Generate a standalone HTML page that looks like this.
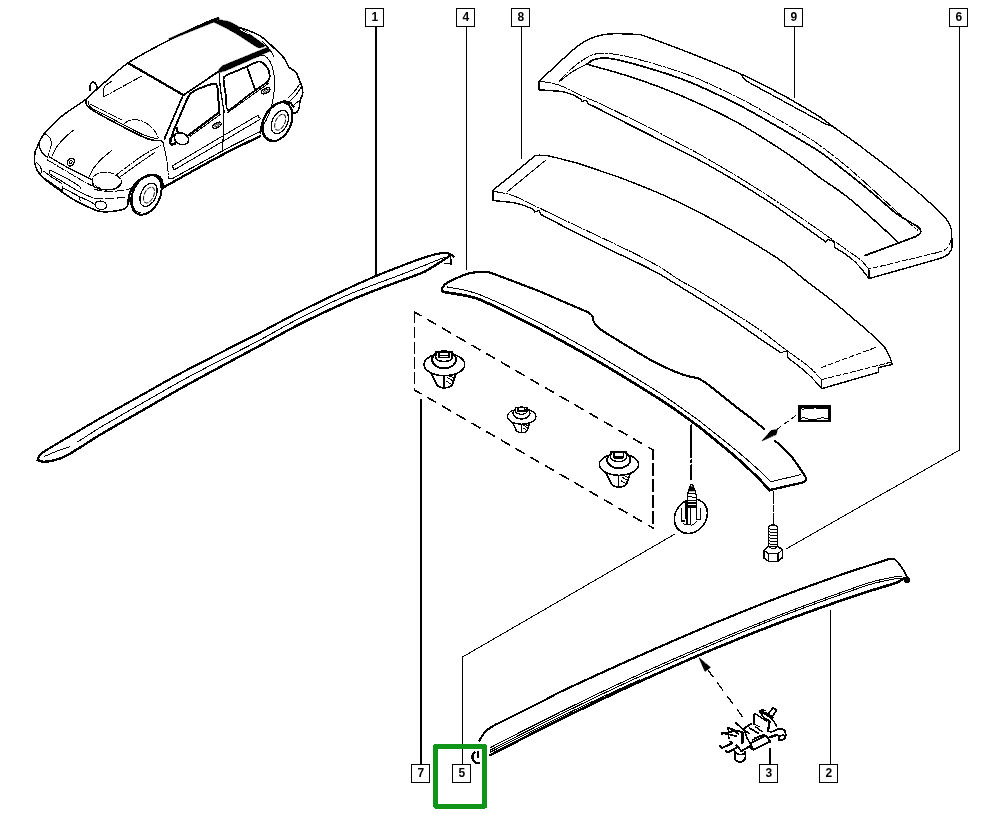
<!DOCTYPE html>
<html><head><meta charset="utf-8"><title>Diagram</title>
<style>
html,body{margin:0;padding:0;background:#fff;}
body{width:1000px;height:820px;overflow:hidden;}
svg{display:block;}
svg path, svg ellipse, svg circle{fill:none;stroke:#000;stroke-linecap:round;stroke-linejoin:round;}
svg .f{fill:#000;}
svg .w{fill:#fff;}
svg .ws{stroke:#fff;}
</style></head><body>
<svg shape-rendering="crispEdges" width="1000" height="820" viewBox="0 0 1000 820">
<rect width="1000" height="820" fill="#fff"/>
<g id="leaders">
<path d="M375.8 26.5 L375.8 274" stroke-width="2" />
<path d="M466.5 26.5 L466.5 270" stroke-width="1" />
<path d="M521.5 26.5 L521.5 159" stroke-width="1" />
<path d="M794.5 26.5 L794.5 98" stroke-width="1" />
<path d="M959.5 26.5 L959.5 450 L786 549" stroke-width="1" />
<path d="M421 400 L421 764" stroke-width="2" />
<path d="M462.5 764 L462.5 657 L675 534" stroke-width="1" />
<path d="M770 749 L770 764" stroke-width="2" />
<path d="M830.5 610 L830.5 764" stroke-width="1" />
</g>
<g id="p1">
<path d="M37.6 458.8 C37.9 458.3 39.1 456 40 455 C40.9 454 40.3 454 44 451.6 C47.7 449.2 60.5 441.6 68 437.2 C75.5 432.8 90.4 423.9 100 418.4 C109.6 412.9 129.3 402 140 396 C150.7 390 169.3 379.3 180 373.6 C190.7 367.9 209.3 358.5 220 353 C230.7 347.5 249.3 338.1 260 332.6 C270.7 327.1 288 317.5 300 311.5 C312 305.5 339.9 292.2 350 287.5 C360.1 282.8 369.3 278.8 376 276 C382.7 273.2 393.6 269 400 266.5 C406.4 264 419.2 259.2 424 257.6 C428.8 256 433.4 254.8 436 254.2 C438.6 253.6 441.4 253.1 443.2 253 C445 252.9 448.2 253.3 449.6 253.8 C451 254.3 453.1 256.4 453.6 256.8" stroke-width="2.1" />
<path d="M37.6 460 C38.2 460.2 40.5 461.4 42 461.6 C43.5 461.8 46.4 461.7 48.8 461.3 C51.2 460.9 57.4 459.4 60 458.5 C62.6 457.6 64.8 456.6 68 454.8 C71.2 453 79.7 447.7 84 445 C88.3 442.3 92.5 439.2 100 434.8 C107.5 430.4 129.3 417.9 140 411.8 C150.7 405.7 169.3 394.8 180 388.8 C190.7 382.8 209.3 372.8 220 367 C230.7 361.2 249.3 351.3 260 345.6 C270.7 339.9 288 330 300 324 C312 318 339.9 305 350 300.5 C360.1 296 369.3 292.6 376 290 C382.7 287.4 393.6 283.4 400 281 C406.4 278.6 419.2 274.2 424 272 C428.8 269.8 433.2 266.5 436 264.8 C438.8 263.1 443 260.4 444.8 259.2 C446.6 258 449 256.4 449.6 256" stroke-width="2.4" />
<path d="M77.6 442 C80.6 440.1 91.7 432.6 100 427.6 C108.3 422.6 129.3 410.6 140 404.5 C150.7 398.4 169.3 387.5 180 381.6 C190.7 375.7 209.3 366 220 360.5 C230.7 355 249.3 345.7 260 340 C270.7 334.3 288 324.1 300 318 C312 311.9 336.7 299.7 350 294 C363.3 288.3 390.1 278.8 400 275 C409.9 271.2 418 268 424 265.6 C430 263.2 442 258.3 444.8 257.2" stroke-width="1.0" />
<path d="M44 456.6 C46 455.8 51.7 453.1 56 451.5 C60.3 449.9 67.3 447.6 69.6 446.8" stroke-width="1.0" />
<path d="M450 254 L451.2 264" stroke-width="1.8" />
<path d="M444.8 263.2 L451.2 263.2" stroke-width="1.2" />
</g>
<g id="p2">
<path d="M479.5 740.5 C480.2 739.4 483.2 733.9 485 732 C486.8 730.1 490.7 727.4 493 726 C495.3 724.6 498.4 723.3 502 721.5 C505.6 719.7 514.3 715.4 520 712.5 C525.7 709.6 539.7 702.7 545 700 C550.3 697.3 552.7 695.5 560 692 C567.3 688.5 589.3 678.4 600 673.5 C610.7 668.6 629.3 660.2 640 655.5 C650.7 650.8 669.3 642.5 680 637.9 C690.7 633.3 709.3 625.3 720 620.9 C730.7 616.5 749.3 608.9 760 604.7 C770.7 600.5 789.3 593.3 800 589.4 C810.7 585.5 830.7 578.3 840 575.1 C849.3 571.9 863.6 567.3 870 565.2 C876.4 563.1 885.6 560.2 888 559.4" stroke-width="2.1" />
<path d="M888 559.4 C888.9 559.3 892.9 558.3 894.4 559 C895.9 559.7 898.2 562.9 899.5 564.5 C900.8 566.1 903 569.3 904 571 C905 572.7 906.6 576.6 907 577.5" stroke-width="1.8" />
<path d="M490.4 755.1 C494.3 753.1 510.7 744.5 520 739.8 C529.3 735.1 549.3 724.9 560 719.6 C570.7 714.3 589.3 705.2 600 700.1 C610.7 695 629.3 686.3 640 681.4 C650.7 676.5 669.3 668.2 680 663.5 C690.7 658.8 709.3 650.8 720 646.4 C730.7 642 749.3 634.5 760 630.3 C770.7 626.1 789.3 619 800 615.1 C810.7 611.2 830.4 604.2 840 600.9 C849.6 597.6 864.5 592.7 872 590.3 C879.5 587.9 892 584.3 896 582.9 C900 581.5 900.8 580.3 902 579.6 C903.2 578.9 904.4 578 904.8 577.8" stroke-width="2.6" />
<path d="M490.4 747.6 C494.3 745.6 510.7 737 520 732.3 C529.3 727.6 549.3 717.5 560 712.2 C570.7 706.9 589.3 697.8 600 692.7 C610.7 687.6 629.3 678.9 640 674 C650.7 669.1 669.3 660.9 680 656.2 C690.7 651.5 709.3 643.5 720 639 C730.7 634.5 749.3 627 760 622.8 C770.7 618.6 789.3 611.3 800 607.3 C810.7 603.3 830.4 596.2 840 592.8 C849.6 589.4 864.5 584 872 581.9 C879.5 579.8 892 577.4 896 576.7 C900 576 901.2 576.7 902 576.7" stroke-width="1.0" />
<path d="M490.4 750.1 C494.3 748.1 510.7 739.5 520 734.8 C529.3 730.1 549.3 719.9 560 714.6 C570.7 709.3 589.3 700.2 600 695.1 C610.7 690 629.3 681.3 640 676.4 C650.7 671.5 669.3 663.2 680 658.5 C690.7 653.8 709.3 645.7 720 641.2 C730.7 636.7 749.3 629.1 760 624.8 C770.7 620.5 789.3 613.3 800 609.3 C810.7 605.3 830.4 598.2 840 594.8 C849.6 591.4 864.5 586.1 872 583.9 C879.5 581.7 892 579.4 896 578.6 C900 577.8 901.2 578.3 902 578.2" stroke-width="1.0" />
<path d="M490.4 752.1 C494.3 750.1 510.7 741.7 520 737 C529.3 732.3 549.3 722.2 560 717 C570.7 711.8 589.3 703 600 698 C610.7 693 634.7 682.1 640 679.7" stroke-width="1.0" />
<circle cx="907" cy="580" r="2.4" class="f"/>
<path d="M474.4 752.3 C474.1 752.8 473 754.5 472.7 755.5 C472.4 756.5 472.2 757.5 472.5 758.5 C472.8 759.5 473.5 760.6 474.2 761.4 C474.9 762.1 475.8 762.7 476.5 763 C477.2 763.3 478.2 763.2 478.6 763.2" stroke-width="2.4" stroke-linecap="butt"/>
<path d="M478 752.2 L478 757.5" stroke-width="2.0" stroke-linecap="butt"/>
</g>
<g id="p4">
<path d="M442.2 290.5 C442.2 290.1 441.9 288.5 442.5 287.5 C443.1 286.5 444.6 284.4 446.4 283.2 C448.2 282 453.1 279.7 456 278.4 C458.9 277.1 464.8 274.5 468 273.6 C471.2 272.7 477.1 272.1 480 272 C482.9 271.9 488.7 272.4 490 272.5" stroke-width="2.2" />
<path d="M490 272.5 L536.4 290 L588 312.2" stroke-width="2.1" />
<path d="M588 312.2 C588.6 312.7 591.4 314.4 592.2 315.8 C593 317.2 593 320.6 594 322.4 C595 324.2 596.5 326.4 600 329 C603.5 331.6 613.1 337.4 620 341.6 C626.9 345.8 644.5 356.7 652 360.8 C659.5 364.9 670.9 369.9 676 372 C681.1 374.1 687.5 376 690.4 376.8 C693.3 377.6 696.6 377.7 697.5 377.8" stroke-width="2.1" />
<path d="M697.5 377.8 C698.6 378.5 703.7 381.4 706 383 C708.3 384.6 711 386.8 715 390 C719 393.2 731.1 402.9 736 406.8 C740.9 410.7 747.9 415.7 752 419 C756.1 422.3 764.1 428.7 766.8 431.3 C769.5 433.9 770.4 436.2 772.4 438.3 C774.4 440.4 779.4 444.5 782 447 C784.6 449.5 789.4 454 792 457.2 C794.6 460.4 800 468.6 801.8 471.2 C803.6 473.8 804.9 475.8 805.5 477 C806.1 478.2 806.3 479.3 806 480 C805.7 480.7 803.6 482.1 803.2 482.4" stroke-width="2.1" />
<path d="M442.2 291 C442.7 291.2 443 291.7 446 292.3 C449 292.9 460.5 294.5 465 295.5 C469.5 296.5 474 297.1 480 299.6 C486 302.1 502 310.1 510 314 C518 317.9 532 325 540 329.2 C548 333.4 562 341.1 570 345.5 C578 349.9 593.3 358.6 600 362.5 C606.7 366.4 612 369.6 620 374.5 C628 379.4 652 394.2 660 399.3 C668 404.4 674.7 409.2 680 413 C685.3 416.8 696.3 424.7 700 427.5 C703.7 430.3 703.2 430 708 434 C712.8 438 729.5 451.5 736 457.2 C742.5 462.9 752.5 472.4 757 476.8 C761.5 481.2 767.9 488.3 769.6 490.1" stroke-width="2.7" />
<path d="M447.5 287 C449.8 287.4 460.7 289.3 465 290.3 C469.3 291.3 474 292.4 480 294.8 C486 297.2 502 304.2 510 308 C518 311.8 532 318.8 540 323 C548 327.2 562 335 570 339.4 C578 343.8 593.3 352.4 600 356.3 C606.7 360.2 612 363.4 620 368.3 C628 373.2 652 388 660 393.2 C668 398.4 674.7 403.2 680 407 C685.3 410.8 696.3 418.6 700 421.4 C703.7 424.2 703.2 424 708 427.8 C712.8 431.6 729.5 444.8 736 450.2 C742.5 455.6 752.3 464.2 757 468.4 C761.7 472.6 769.1 479.9 771 481.7" stroke-width="1.0" />
<path d="M769.6 490.1 L803.2 482.4" stroke-width="2.3" />
<path d="M771 481.7 L800.4 474.7" stroke-width="1.0" />
</g>
<g id="p8">
<path d="M492.8 190.4 C494.5 189 506.6 179.3 510 176.5 C513.4 173.7 524.5 164.6 527 162.5 C529.5 160.4 533.9 156.5 535.2 155.8 C536.5 155.1 538.7 155.2 540 155.2 C541.3 155.2 547.2 155.6 548 155.7" stroke-width="1.4" />
<path d="M548 155.7 C551.7 156.6 570.1 161.2 576 162.8 C581.9 164.4 587.7 166.6 592 168 C596.3 169.4 604.3 172.3 608 173.6 C611.7 174.9 613.1 174.9 620 177.6 C626.9 180.3 649.3 188.9 660 193.6 C670.7 198.3 689.3 207.3 700 212.8 C710.7 218.3 729.3 228.9 740 235.2 C750.7 241.5 771.3 254 780 260 C788.7 266 798.3 274.8 805 280 C811.7 285.2 823.3 293.7 830 299 C836.7 304.3 849.7 315.5 855 320 C860.3 324.5 866.2 329.5 870 333 C873.8 336.5 881 342.8 883.6 346 C886.2 349.2 888.5 354.6 889.6 356.8 C890.7 359 891.5 361.8 891.8 362.8 C892.1 363.8 891.8 364.4 891.8 364.6" stroke-width="1.4" />
<path d="M492.8 190.4 L492.8 200.5 L512.5 202.5" stroke-width="1.4" />
<path d="M512.5 202.5 C514.4 203 520.5 204.3 524 205.5 C527.5 206.7 531.9 208.8 533.5 209.5" stroke-width="1.4" />
<path d="M533.5 209.5 L534.5 212 L539 210.5 L540.8 214.4" stroke-width="1.2" />
<path d="M540.8 214.4 C545.5 216.9 567 228.2 576 232.8 C585 237.4 599.5 244.6 608 248.8 C616.5 253 633.1 260.6 640 264 C646.9 267.4 654.7 271.4 660 274.4 C665.3 277.4 670.9 281 680 286.6 C689.1 292.2 717.3 309.4 728 316.4 C738.7 323.4 753.2 334.1 760 338.8 C766.8 343.5 776.6 349.9 779.2 351.6" stroke-width="1.4" />
<path d="M779.2 351.6 L780.5 352.6 L787.2 351 L788 358" stroke-width="1.2" />
<path d="M788 358 C789.3 359 795.3 363.4 798 365.5 C800.7 367.6 805.7 371.9 808 374 C810.3 376.1 813.2 379.1 815 381 C816.8 382.9 820.7 387.4 821.6 388.4" stroke-width="1.3" />
<path d="M492.8 191.2 C495.4 191.7 506.5 193.3 512 195.2 C517.5 197.1 525.9 201.5 534.4 205.6 C542.9 209.7 564.6 220.2 576 225.6 C587.4 231 611.5 242.3 620 246.4 C628.5 250.5 634.7 253.5 640 256.3 C645.3 259.1 654.7 264 660 267.2 C665.3 270.4 675.3 277.5 680 280.4 C684.7 283.3 688.8 285 695.2 288.8 C701.6 292.6 719.4 303.7 728 309.2 C736.6 314.7 752.5 324.8 760 330 C767.5 335.2 777.6 343.6 784 348.4 C790.4 353.2 803 361.9 808 366 C813 370.1 819.6 377.6 821.4 379.4" stroke-width="1.0" stroke-dasharray="12 1.5 2 1.5"/>
<path d="M507.5 191.5 L546 160" stroke-width="1.0" />
<path d="M891.8 364.6 L878.8 367.4 L878.2 372.4 L821.8 388.6 L821.4 379.6" stroke-width="1.4" />
<path d="M821.4 379.6 L890.8 362.2" stroke-width="1.0" stroke-dasharray="5 2.5"/>
<path d="M821.2 367.6 L875.8 347.4" stroke-width="1.0" stroke-dasharray="5 2.5"/>
</g>
<g id="p9">
<path d="M538.8 81.3 C541.5 78.8 549.8 71.3 555 66.5 C560.2 61.7 565.8 56.2 570 52.5 C574.2 48.8 576.7 46.8 580 44.5 C583.3 42.2 586.3 40.4 590 38.8 C593.7 37.2 597.8 35.9 602 35 C606.2 34.1 608.7 33.8 615 33.7 C621.3 33.6 635.8 34.4 640 34.5" stroke-width="1.4" />
<path d="M640 34.5 C642.7 35.4 652 38.6 660 41.6 C668 44.6 689.3 52.7 700 57 C710.7 61.3 729.3 68.7 740 73.6 C750.7 78.5 772 89.4 780 93.6 C788 97.8 794.7 101.9 800 105 C805.3 108.1 815.7 114.2 820 117 C824.3 119.8 827.2 122.5 832 126 C836.8 129.5 849.6 138.3 856 143 C862.4 147.7 874.1 156.7 880 161.2 C885.9 165.7 894.7 172.6 900 177 C905.3 181.4 915.7 190.3 920 194 C924.3 197.7 928.8 201.8 932 204.8 C935.2 207.8 941.8 214 944 216.4 C946.2 218.8 947.6 220.7 948.6 222.5 C949.6 224.3 951 227.9 951.4 230 C951.8 232.1 951.7 236.9 951.8 238" stroke-width="1.4" />
<path d="M951.8 238 C951.8 239.5 952.3 244.7 952 247 C951.7 249.3 951.2 250.1 950.2 251.6 C949.2 253.1 947.9 254.6 946 255.8 C944.1 257 940 258.3 938.8 258.8" stroke-width="1.4" />
<path d="M938.8 258.8 L869 278.6 L868.8 269" stroke-width="1.4" />
<path d="M950.8 240.2 C950.5 241.1 950 243.9 949 245.5 C948 247.1 946.9 248.6 944.8 249.8 C942.7 251 937.8 252.3 936.4 252.8" stroke-width="1.0" stroke-dasharray="5 2.5"/>
<path d="M936.4 252.8 L869 269" stroke-width="1.0" stroke-dasharray="5 2.5"/>
<path d="M538.8 81.3 L538.8 89.8 L562 91.4" stroke-width="1.4" />
<path d="M562 91.4 C563.7 91.9 568.8 93.2 572 94.5 C575.2 95.8 579.7 98.6 581.2 99.4" stroke-width="1.4" />
<path d="M581.2 99.4 L582 101.3 L586.8 100.2 L587.6 103.4" stroke-width="1.2" />
<path d="M587.6 103.4 C589.3 104.2 594.9 106.9 600 109.5 C605.1 112.1 619.3 119.6 626 123 C632.7 126.4 643.5 131.7 650 135 C656.5 138.3 668.3 144.4 675 147.8 C681.7 151.2 694 157.3 700 160.5 C706 163.7 714.7 168.7 720 171.8 C725.3 174.9 733.3 179.4 740 183.5 C746.7 187.6 762 197.2 770 202.5 C778 207.8 792.5 218.2 800 223.5 C807.5 228.8 822.5 239.5 826 242" stroke-width="1.4" />
<path d="M826 242 L827.5 239.5 L834 241.5 L834.5 247.5" stroke-width="1.2" />
<path d="M834.5 247.5 C835.6 248.2 840.5 250.8 843 252.5 C845.5 254.2 850.9 258.2 853 260 C855.1 261.8 857.6 264.5 859 266 C860.4 267.5 862.2 269.9 863.5 271.5 C864.8 273.1 867.8 277.1 868.5 278" stroke-width="1.3" />
<path d="M538.8 81 C541.5 81.5 552.9 83 558.8 85 C564.7 87 577.3 93.7 582.8 96.2 C588.3 98.7 594.2 100.8 600 103.5 C605.8 106.2 619.3 112.9 626 116.2 C632.7 119.5 643.5 124.7 650 128 C656.5 131.3 668.3 137.7 675 141.2 C681.7 144.7 693.5 150.9 700 154.5 C706.5 158.1 718.7 165.4 724 168.5 C729.3 171.6 733.9 174.2 740 178 C746.1 181.8 762 191.8 770 197 C778 202.2 792 211.5 800 217 C808 222.5 823.3 233.3 830 238 C836.7 242.7 845.9 249.3 850 252.2 C854.1 255.1 858.3 257.8 860.8 260 C863.3 262.2 867.7 267.8 868.8 269" stroke-width="1.0" stroke-dasharray="12 1.5 2 1.5"/>
<path d="M741 74 C741.4 74.7 742.4 76.8 743.5 78 C744.6 79.2 744.8 79.8 747.5 81.5 C750.2 83.2 747.9 81.9 760 88.5 C772.1 95.1 808.3 114.8 820 121 C831.7 127.2 827.5 124.4 830 125.5 C832.5 126.6 834.2 127.2 835 127.5" stroke-width="1.3" />
<path d="M558.8 81 C560 79.8 565.4 74.3 568 72 C570.6 69.7 574.7 65.7 578 63.4 C581.3 61.1 588.8 56.1 592.4 54.8 C596 53.5 600.7 53.1 605.2 53.3 C609.7 53.5 619 54.6 626 56.2 C633 57.8 650.8 62.9 658 65 C665.2 67.1 674.4 70.1 680 72 C685.6 73.9 692 76.1 700 79.6 C708 83.1 729.3 92.9 740 98.4 C750.7 103.9 770 114.8 780 120.6 C790 126.4 806.3 136.1 815 142 C823.7 147.9 837.7 159 845 165 C852.3 171 863.3 181 870 187 C876.7 193 889.9 205.3 895 210 C900.1 214.7 905 219.3 908 222 C911 224.7 916.2 228.9 917.5 230" stroke-width="1.0" stroke-dasharray="9 2 2 2"/>
<path d="M586.8 64.2 C587.8 63.6 591.3 60.4 594 59.6 C596.7 58.8 602.5 57.8 606.8 58.1 C611.1 58.4 619.2 60.1 626 61.8 C632.8 63.5 650.8 68.8 658 71 C665.2 73.2 674.4 76.3 680 78.4 C685.6 80.5 692 82.8 700 86.4 C708 90 729.3 100.1 740 105.6 C750.7 111.1 769.3 121.8 780 128 C790.7 134.2 811.3 146.3 820 152 C828.7 157.7 838.3 165.8 845 171 C851.7 176.2 863.3 185.5 870 191 C876.7 196.5 889.7 208.4 895 212.5 C900.3 216.6 907 220.1 910 222 C913 223.9 916.1 225.4 917.5 226.5 C918.9 227.6 920.2 229.1 920.5 230 C920.8 230.9 920.6 232.6 920 233.5 C919.4 234.4 916.5 236.1 916 236.5" stroke-width="1.7" />
<path d="M916 236.5 L865 255.5" stroke-width="1.8" />
<path d="M559.5 81.5 C561.6 79.9 567.5 74.9 572 72 C576.5 69.1 584.3 65.5 586.8 64.2" stroke-width="1.0" />
<path d="M586.8 64.2 C592 65.7 616.2 72.3 626 75.4 C635.8 78.5 650.1 83.4 660 87.2 C669.9 91 689.3 99.1 700 104 C710.7 108.9 729.3 118 740 124 C750.7 130 771.5 143.3 780 148.8 C788.5 154.3 798.7 161.7 804 165.6 C809.3 169.5 815.5 174.5 820 177.8 C824.5 181.1 833.8 187 838 190 C842.2 193 846.9 196.5 851.2 200 C855.5 203.5 865.5 212.5 870 216.5 C874.5 220.5 881.3 226.5 885 230 C888.7 233.5 896.3 240.9 898 242.6" stroke-width="1.5" />
</g>
<g id="dbox">
<path d="M414.5 312 L414.5 390" stroke-width="1.6" stroke-dasharray="10.3 5" stroke-linecap="butt"/>
<path d="M414.5 312 L653 450" stroke-width="1.6" stroke-dasharray="9 8" stroke-dashoffset="1.6" stroke-linecap="butt"/>
<path d="M414.5 390 L653 528" stroke-width="1.6" stroke-dasharray="9 8" stroke-dashoffset="1.6" stroke-linecap="butt"/>
<path d="M653 450 L653 528.5" stroke-width="1.6" stroke-dasharray="11 5" stroke-dashoffset="2" stroke-linecap="butt"/>
</g>
<g id="car">
<ellipse cx="146.4" cy="194.8" rx="21" ry="13.6" transform="rotate(-65 146.4 194.8)" stroke-width="2.0" class="w"/>
<path d="M132.5 198 A18.5 11.6 -65 0 0 141 212.5" stroke-width="1.0" />
<ellipse cx="148.5" cy="194.8" rx="12.3" ry="7.6" transform="rotate(-65 148.5 194.8)" stroke-width="1.2" />
<ellipse cx="149" cy="195" rx="8.5" ry="4.6" transform="rotate(-65 149 195)" stroke-width="0.9" stroke-dasharray="4 2"/>
<path d="M128 203 C128.4 201 128.9 194.7 130.6 191 C132.3 187.3 134.9 183.6 138 181 C141.1 178.4 145.8 176.5 149 175.6 C152.2 174.7 154.9 174.9 157 175.6 C159.1 176.3 160.6 177.5 161.6 179.6 C162.6 181.7 162.6 186.6 162.8 188" stroke-width="2.2" />
<ellipse cx="277.4" cy="121.8" rx="20.6" ry="13.6" transform="rotate(-65 277.4 121.8)" stroke-width="2.0" class="w"/>
<path d="M263.5 125 A18.2 11.6 -65 0 0 272 139.5" stroke-width="1.0" />
<ellipse cx="279.8" cy="122" rx="12.3" ry="7.6" transform="rotate(-65 279.8 122)" stroke-width="1.2" />
<ellipse cx="280.2" cy="122.2" rx="8.5" ry="4.6" transform="rotate(-65 280.2 122.2)" stroke-width="0.9" stroke-dasharray="4 2"/>
<path d="M260.4 132.4 C260.9 130.2 261.7 123.1 263.6 119 C265.5 114.9 268.6 110.4 271.6 107.6 C274.6 104.8 278.6 102.9 281.6 102 C284.6 101.1 287.6 101.6 289.6 102.4 C291.6 103.2 292.9 106.2 293.6 107" stroke-width="2.2" />
<path d="M45 133 C47.3 130.7 56.7 120.4 62 116 C67.3 111.6 80.5 103.5 85 100 C89.5 96.5 90.3 94.9 96 90 C101.7 85.1 118.1 69.7 128 63 C137.9 56.3 159.6 45 170 39.6 C180.4 34.2 199.6 25.3 206 22.4 C212.4 19.5 216.4 18.6 218 18" stroke-width="1.5" />
<path d="M169 38.6 L218 17.4 L219.6 19.2 L215 21.6 L190 31.6 L170 39.8Z" stroke-width="0.6" class="f"/>
<path d="M214.4 22.2 C213.8 21.5 217.3 20.6 218 20.4 C218.7 20.2 220.4 20 221.6 20.2 C222.8 20.4 228.1 21.2 230 22 C231.9 22.8 238.5 26.6 240.8 28 C243.1 29.4 250.4 34.7 252.8 36.4 C255.2 38.1 263.9 44.3 264.8 45.4 C265.7 46.5 262.7 47.2 262 47.4 C261.3 47.6 259 48 257.6 47.4 C256.2 46.8 250.2 42.8 248 41.4 C245.8 40 238.4 35 236 33.6 C233.6 32.2 226.2 28.1 224 27 C221.8 25.9 215 22.9 214.4 22.2Z" stroke-width="0.6" class="f"/>
<path d="M240.5 29.5 L249 34.2" stroke-width="1.0" class="ws"/>
<path d="M239.6 27.6 C240.7 28 245.3 29.3 248 30.4 C250.7 31.5 256.8 33.7 260 35.8 C263.2 37.9 268.8 43 272 46 C275.2 49 281.8 55.2 284 58 C286.2 60.8 287.2 65.1 288.8 67 C290.4 68.9 294.6 70.6 296 72.4 C297.4 74.2 298.8 78.9 299.6 80.8 C300.4 82.7 301.6 85 302 86.8 C302.4 88.6 302.9 92.1 302.6 94 C302.3 95.9 300.5 99.1 300 101 C299.5 102.9 299.6 106.5 299.2 108 C298.8 109.5 297.8 111.3 297 112 C296.2 112.7 293.5 113.3 293 113.5" stroke-width="1.6" />
<path d="M301 87.6 C300.2 88.8 297.8 92.8 296 95 C294.2 97.2 291 100 290 101" stroke-width="1.1" />
<path d="M299.6 84.4 C298.7 85.7 295.9 89.7 294 92 C292.1 94.3 289 97 288 98" stroke-width="1.0" />
<path d="M300 100 C299.2 100.7 296.2 102.8 295 104 C293.8 105.2 293.3 106.5 293 107" stroke-width="1.0" />
<path d="M262 41 C263.3 42.5 268 47.3 270 50 C272 52.7 273.3 55.8 274 57" stroke-width="1.0" />
<path d="M217.5 72.8 L219.5 68.5 L222 66 L267 47.5 L271 50.5 L258 56.5 L226 70.5Z" stroke-width="0.6" class="f"/>
<path d="M218 71.8 L183 95.4" stroke-width="1.7" />
<path d="M128 63 L184 95.4" stroke-width="2.3" />
<path d="M183 95.4 C181.7 98.5 177.3 108.6 175 114 C172.7 119.4 170.8 123.8 169 128 C167.2 132.2 165.2 137.2 164.4 139" stroke-width="1.7" />
<path d="M170 143.6 C170.4 142.1 171.8 135.8 173 132.4 C174.2 129 177 122.7 179 118 C181 113.3 186.3 100.8 188 97.4 C189.7 94 190.5 93.6 192 92.4 C193.5 91.2 196.1 89.8 199 88.6 C201.9 87.4 211.7 84.1 214 83.6 C216.3 83.1 216.1 84.3 216.6 85.2 C217.1 86.1 217.5 86.4 217.8 90 C218.1 93.6 219 109.4 219.2 112.4" stroke-width="2.0" />
<path d="M219.2 112.4 L188.4 135.2" stroke-width="2.2" />
<path d="M220.4 114.4 L190 136.4" stroke-width="1.0" />
<path d="M177.2 133.2 C178.8 132.7 182.1 132.7 184 133.6 C185.9 134.5 187.9 136.8 188.4 138.4 C188.9 140 188.2 142.2 187 143.2 C185.8 144.2 182.9 144.9 181 144.6 C179.1 144.3 176.7 142.6 175.6 141.2 C174.5 139.8 174.1 137.7 174.4 136.4 C174.7 135.1 175.6 133.7 177.2 133.2Z" stroke-width="1.5" class="w"/>
<path d="M173.2 134.8 C172.7 135.7 170.6 138.4 170.2 140 C169.8 141.6 170.2 143.6 171 144.2 C171.8 144.8 174.5 143.7 175.2 143.6" stroke-width="2.6" />
<path d="M176.8 128.4 L178 133.2" stroke-width="2.2" />
<path d="M219.2 73.6 C219.4 76.3 219.8 83.7 220.6 90 C221.4 96.3 223.4 107.7 224 111.2" stroke-width="1.3" />
<path d="M224 111.2 C223.9 114.3 223.9 123.6 223.6 130 C223.3 136.4 222.6 146.2 222.4 149.4" stroke-width="1.1" />
<path d="M224 77.2 C225.5 74.7 237.6 70.8 241 69.2 C244.4 67.6 255.7 62.2 258 61.6 C260.3 61 262.6 62.7 263.6 63.4 C264.6 64.1 267.4 67.8 268 69 C268.6 70.2 269.6 73.8 269.6 75 C269.6 76.2 270.2 79.1 268 81.2 C265.8 83.3 252 92.7 248 95.6 C244 98.5 230.2 110.4 228 110.2 C225.8 110 226 97.3 225.6 94 C225.2 90.7 222.5 79.7 224 77.2Z" stroke-width="1.8" />
<path d="M247 67 L255 89.4" stroke-width="1.7" />
<path d="M228 112.4 L269 83" stroke-width="1.0" />
<path d="M222.4 70 C227.4 68.1 253.9 57.1 260 55.6 C266.1 54.1 266.4 57.4 268 58.8 C269.6 60.2 271.1 63.4 272 66 C272.9 68.6 274.2 74 274.4 78 C274.6 82 274.3 91.2 273.6 96 C272.9 100.8 270.7 109.5 269 114 C267.3 118.5 262.1 127.9 261 130" stroke-width="1.0" />
<ellipse cx="217" cy="125.2" rx="4.6" ry="2.3" transform="rotate(-28 217 125.2)" stroke-width="1.3" />
<ellipse cx="217" cy="125.2" rx="2.6" ry="1" transform="rotate(-28 217 125.2)" stroke-width="0.8" />
<ellipse cx="265.8" cy="90.8" rx="4.6" ry="2.3" transform="rotate(-28 265.8 90.8)" stroke-width="1.3" />
<ellipse cx="265.8" cy="90.8" rx="2.6" ry="1" transform="rotate(-28 265.8 90.8)" stroke-width="0.8" />
<path d="M174.4 164.6 C178.5 162 251.8 118.8 256 116.4 C260.2 114 258.3 117.2 258.4 117.4 C258.5 117.6 262.3 117.8 258.2 120.4 C254.1 123 180.6 166.2 176.4 168.6 C172.2 171 173.7 168 173.6 167.8 C173.5 167.6 170.3 167.2 174.4 164.6Z" stroke-width="1.0" />
<path d="M162 188.2 C165.5 186.3 207.5 162.7 214 159.2 C220.5 155.7 256.9 137.7 260 136.2" stroke-width="2.3" />
<path d="M168.4 178.2 C168.6 178.2 170.3 179.5 173 178.2 C175.7 176.8 217.8 153.5 222 151.2 C226.2 148.9 256.2 133.5 258 132.6" stroke-width="1.1" />
<path d="M163 142.4 C163.4 144.3 164.8 150.1 165.6 154 C166.4 157.9 167.1 162 167.6 166 C168.1 170 168.3 176.2 168.4 178.2" stroke-width="1.0" stroke-dasharray="7 1.5 1.5 1.5"/>
<path d="M160 140 L163 142.4" stroke-width="1.0" />
<path d="M44.7 132.7 C44 133.9 40.4 139.6 39.4 141.5 C38.3 143.4 37.7 145.5 37.2 147 C36.6 148.5 35.3 150.4 35 152.5 C34.6 154.6 34.3 159.9 34.6 162.4 C35 164.9 36.6 169.2 37.7 171.2 C38.8 173.3 40.6 175.5 43.2 177.8 C45.8 180.2 53.4 185.9 57.5 188.8 C61.6 191.7 69.5 197.2 74 199.8 C78.6 202.4 87.9 207 91.6 208.6 C95.3 210.2 98.3 211.3 101.5 211.6 C104.7 211.9 112.5 211.5 115.8 211 C119.1 210.5 124.5 209.1 126.3 207.7 C128 206.4 128.6 201.8 129 200.9" stroke-width="1.6" />
<path d="M44.3 133.3 C45.1 133.9 48.1 135.5 49.3 137.1 C50.4 138.7 51.3 140.7 51.5 142.6 C51.6 144.5 51 146.3 50.4 148.7 C49.7 151 48.1 155.5 47.6 156.9" stroke-width="1.0" stroke-dasharray="7 1.5 1.5 1.5"/>
<path d="M47.6 156.9 C47 156.5 45 156.1 43.8 154.7 C42.5 153.3 40.6 150.5 39.9 148.3 C39.2 146.1 39.4 142.6 39.4 141.5" stroke-width="1.3" />
<path d="M49.3 156.9 C51.1 157.9 63.2 165.1 67.4 167.4 C71.6 169.6 89.2 178.2 91.6 179.5" stroke-width="1.2" />
<path d="M47.6 160 C49.5 161.1 62.6 169 66.3 171.2 C70 173.4 82.4 180.8 85 182.2 C87.6 183.7 91.4 185.4 92.2 185.7" stroke-width="1.0" stroke-dasharray="7 1.5 1.5 1.5"/>
<path d="M49.8 170.1 C50.9 170.6 60.5 175.1 63 176.5 C65.5 177.8 78 185.3 79.5 186.4 C81 187.4 80.7 188.8 80.8 189" stroke-width="1.0" />
<path d="M49.8 170.1 C49.8 170.4 48.4 172.7 49.4 173.6 C50.4 174.6 59.5 179.9 61.9 181.3 C64.3 182.8 75.9 189.9 78.4 191.2 C80.9 192.6 91 197.1 92.2 197.6" stroke-width="1.0" />
<path d="M43.8 171.2 C44.6 171.8 50.2 176.1 52 177.3 C53.8 178.4 60.4 182.5 61.4 183.1" stroke-width="1.0" />
<path d="M62.1 186.6 L62.5 191" stroke-width="1.0" />
<path d="M36.1 162.4 C36.8 163.1 39.6 165 40.5 166.8 C41.3 168.6 41.5 172.7 41 173.4 C40.5 174.1 38.3 171.6 37.7 171.2" stroke-width="1.1" />
<path d="M43.8 177.8 C45 178.6 60.6 189.5 61.9 190.1 C63.2 190.8 61.8 187.5 63 187.9 C64.2 188.4 77.6 195.8 79.5 196.7 C81.4 197.7 90.6 201.7 91.6 202.2 C92.6 202.7 94.2 204.3 94.4 204.4" stroke-width="1.1" />
<path d="M79.5 196.7 L80.1 200.9" stroke-width="1.0" />
<path d="M93.8 189 C96 189.5 102.1 191.5 107 191.7 C112 191.9 119.1 190.7 123.5 190.1 C127.9 189.5 131.8 188.3 133.4 187.9" stroke-width="1.1" stroke-dasharray="8 3"/>
<path d="M94.9 198.9 C97.8 198.8 107.4 198.7 112.5 198.4 C117.6 198.1 123.5 197.5 125.7 197.3" stroke-width="1.1" stroke-dasharray="8 3"/>
<ellipse cx="106.8" cy="181.1" rx="14.6" ry="8.7" transform="rotate(6 106.8 181.1)" stroke-width="1.1" stroke-dasharray="6 2"/>
<path d="M92.3 182.2 C92.7 183 92.8 185.9 94.9 187.2 C97 188.4 101.3 189.7 104.8 189.9 C108.3 190.1 113.1 189.4 115.8 188.3 C118.5 187.2 119.9 184.1 120.8 183.3" stroke-width="1.2" />
<ellipse cx="100.8" cy="205.3" rx="5.9" ry="4.2" transform="rotate(10 100.8 205.3)" stroke-width="1.1" />
<ellipse cx="70.8" cy="162.1" rx="4.2" ry="3.1" transform="rotate(-55 70.8 162.1)" stroke-width="1.3" />
<ellipse cx="70.8" cy="162.1" rx="2" ry="1.2" transform="rotate(-55 70.8 162.1)" stroke-width="1.0" />
<path d="M52 155.8 C52.9 154.2 55.3 149 57.5 145.9 C59.7 142.8 62.5 139.8 65.2 137.1 C68 134.4 72.5 131.1 74 130" stroke-width="1.0" />
<path d="M89.4 176.7 C90.1 175.2 91.8 170.8 93.8 167.9 C95.8 165 98.5 162 101.5 159.1 C104.5 156.2 110.2 151.8 112 150.3" stroke-width="1.0" />
<path d="M115 176 C119.5 172.7 134.3 161.1 142 156 C149.7 150.9 157.8 147 161 145.2" stroke-width="1.0" stroke-dasharray="7 1.5 1.5 1.5"/>
<path d="M120 177 C123 174.8 132.2 168.1 138 164 C143.8 159.9 152.2 154.3 155 152.4" stroke-width="1.0" />
<path d="M85.6 99.6 C85.8 100.3 85.7 103.5 86.8 105 C87.9 106.5 90.9 109 94 111 C97.1 113 103.6 116.6 110 120 C116.4 123.4 136.4 133.7 142 136.4 C147.6 139.1 149.4 139.4 152 140 C154.6 140.6 160.1 140.5 161.4 140.6" stroke-width="1.6" />
<path d="M88.4 102 C88.7 102.7 88.1 105.5 91 107.6 C93.9 109.7 103.2 114.1 110 117.6 C116.8 121.1 135.6 131.3 142 134.2 C148.4 137.1 155.9 138.4 158 139" stroke-width="1.0" />
<path d="M90 104 L122 120" stroke-width="1.0" stroke-dasharray="7 1.5 1.5 1.5"/>
<path d="M123 125.2 C123.8 124.5 125.8 121.9 128 121 C130.2 120.1 133 119.3 136 119.6 C139 119.9 143 121.3 146 123 C149 124.7 151.9 127.4 154 130 C156.1 132.6 157.8 137 158.6 138.4" stroke-width="1.0" stroke-dasharray="7 1.5 1.5 1.5"/>
<path d="M103 96.6 C103.2 95 102.9 89.6 104.4 87 C105.9 84.4 110.7 82 112 81" stroke-width="1.0" />
<path d="M103 97.2 L142 76" stroke-width="1.0" stroke-dasharray="7 1.5 1.5 1.5"/>
<path d="M90 90.4 C90.1 89.3 90 85.4 90.6 84 C91.2 82.6 92.6 82 93.6 82.2 C94.6 82.4 95.8 83.9 96.4 85 C97 86.1 97.1 88.3 97.2 89" stroke-width="1.6" />
</g>
<g>
<path d="M431.1 373.5 C431.5 374.3 433.7 378.6 434.4 380 C435.1 381.4 436.4 384.6 437.1 385.5 C437.8 386.4 439.5 387 440.4 387.3 C441.3 387.6 443.5 387.7 444.4 387.7 C445.3 387.7 447.6 387.6 448.4 387.3 C449.2 387 451 386.4 451.6 385.5 C452.2 384.6 453.4 381.4 453.9 380 C454.4 378.6 455.8 374.3 456.1 373.5" stroke-width="1.8" class="w"/>
<path d="M443.9 375.5 L443.9 387.3" stroke-width="1.4" />
<path d="M447.4 377.5 L452.4 380.5" stroke-width="1.0" />
<path d="M446.9 381.5 L450.9 384" stroke-width="1.0" />
<path d="M448.4 375.5 L453.9 378" stroke-width="1.0" />
<ellipse cx="444.4" cy="364.5" rx="20.3" ry="11.2" stroke-width="1.6" class="w"/>
<ellipse cx="444.1" cy="359.7" rx="12" ry="8.6" stroke-width="1.9" class="w"/>
<path d="M436.1 351.8 C436.1 352.6 435.5 356.9 435.8 358 C436.1 359.1 437.3 359.9 438.4 360.4 C439.5 360.9 442.6 361.4 444.1 361.4 C445.6 361.4 448.5 360.9 449.6 360.4 C450.7 359.9 451.7 359.1 452 358 C452.3 356.9 451.8 352.6 451.8 351.8Z" stroke-width="1.5" class="w"/>
<path d="M435.8 351.6 L452 351.6" stroke-width="2.0" />
<path d="M439.1 353.4 L439.1 357.6 L449 357.6 L449 353.4" stroke-width="1.5" />
<path d="M441 355.8 L447.7 355.8" stroke-width="1.2" />
</g>
<g>
<path d="M512.4 422.6 C512.7 423.2 514.2 426.2 514.7 427.2 C515.2 428.2 516.1 430.5 516.6 431.1 C517.1 431.6 518.3 432.1 518.9 432.3 C519.5 432.5 521 432.6 521.7 432.6 C522.4 432.6 523.9 432.5 524.5 432.3 C525.1 432.1 526.3 431.6 526.7 431.1 C527.2 430.5 528 428.2 528.4 427.2 C528.7 426.2 529.7 423.2 529.9 422.6" stroke-width="1.4400000000000002" class="w"/>
<path d="M521.4 424.1 L521.4 432.3" stroke-width="1.1199999999999999" />
<path d="M523.8 425.4 L527.3 427.6" stroke-width="1.0" />
<path d="M523.5 428.2 L526.2 430" stroke-width="1.0" />
<path d="M524.5 424.1 L528.4 425.8" stroke-width="1.0" />
<ellipse cx="521.7" cy="416.4" rx="14.2" ry="7.8" stroke-width="1.3" class="w"/>
<ellipse cx="521.5" cy="413" rx="8.4" ry="6" stroke-width="1.5" class="w"/>
<path d="M515.9 407.5 C515.9 408 515.5 411 515.7 411.8 C515.9 412.6 516.7 413.2 517.5 413.5 C518.3 413.8 520.4 414.2 521.5 414.2 C522.5 414.2 524.6 413.8 525.3 413.5 C526.1 413.2 526.8 412.6 527 411.8 C527.2 411 526.9 408 526.9 407.5Z" stroke-width="1.2000000000000002" class="w"/>
<path d="M515.7 407.3 L527 407.3" stroke-width="1.6" />
<path d="M518 408.6 L518 411.5 L524.9 411.5 L524.9 408.6" stroke-width="1.2000000000000002" />
<path d="M519.3 410.3 L524 410.3" stroke-width="1.0" />
</g>
<g>
<path d="M606.2 473.2 C606.5 473.9 608.7 478.1 609.4 479.4 C610 480.8 611.3 483.9 612 484.7 C612.6 485.6 614.3 486.2 615.1 486.5 C616 486.7 618.1 486.9 619 486.9 C619.9 486.9 622 486.7 622.9 486.5 C623.7 486.2 625.3 485.6 625.9 484.7 C626.6 483.9 627.7 480.8 628.2 479.4 C628.7 478.1 630 473.9 630.3 473.2" stroke-width="1.7369999999999999" class="w"/>
<path d="M618.5 475.1 L618.5 486.5" stroke-width="1.351" />
<path d="M621.9 477 L626.7 479.9" stroke-width="1.0" />
<path d="M621.4 480.9 L625.3 483.3" stroke-width="1.0" />
<path d="M622.9 475.1 L628.2 477.5" stroke-width="1.0" />
<ellipse cx="619" cy="464.5" rx="19.6" ry="10.8" stroke-width="1.5" class="w"/>
<ellipse cx="618.7" cy="459.9" rx="11.6" ry="8.3" stroke-width="1.8" class="w"/>
<path d="M611 452.2 C611 453 610.4 457.1 610.7 458.2 C611 459.3 612.1 460.1 613.2 460.5 C614.3 461 617.3 461.5 618.7 461.5 C620.2 461.5 623 461 624 460.5 C625 460.1 626.1 459.3 626.3 458.2 C626.6 457.1 626.2 453 626.1 452.2Z" stroke-width="1.4475" class="w"/>
<path d="M610.7 452 L626.3 452" stroke-width="1.93" />
<path d="M613.9 453.8 L613.9 457.8 L623.4 457.8 L623.4 453.8" stroke-width="1.4475" />
<path d="M615.7 456.1 L622.2 456.1" stroke-width="1.158" />
</g>
<path d="M691.3 425 L691.3 479.6" stroke-width="1.9" stroke-dasharray="32.5 2.7 2.2 2.7 15" stroke-linecap="butt"/>
<path d="M773.4 491.5 L773.4 523" stroke-width="1.2" stroke-dasharray="12 2.5 5 2.5 10" stroke-linecap="butt"/>
<g id="s5">
<ellipse cx="690.9" cy="516.2" rx="18.3" ry="15.3" transform="rotate(-52 690.9 516.2)" stroke-width="1.6"/>
<path d="M687.3 503 C687.3 501.9 687.3 497 687.6 495 C687.9 493 689 489.4 689.5 488 C690 486.6 691.1 484.2 691.7 484.2 C692.3 484.2 693.4 486.6 694 488 C694.6 489.4 695.8 493 696.2 495 C696.6 497 696.7 501.9 696.8 503Z" stroke-width="1.3" class="w"/>
<path d="M690.3 489 L693.2 489" stroke-width="1" />
<path d="M688.6 493 L695 494" stroke-width="1.1" />
<path d="M688 496.5 L695.8 497.5" stroke-width="1.1" />
<path d="M688 500 L696 501" stroke-width="1.1" />
<path d="M690 486.5 L693.5 486.5 L694.5 491 L689 491Z" stroke-width="0.6" class="f"/>
<rect x="685.3" y="502" width="12" height="5.6" class="f" stroke="none"/>
<path d="M688 504.3 L696 504.3" stroke-width="1.0" class="ws"/>
<path d="M681.6 508.5 L681.6 521 L685 521" stroke-width="1.3" />
<path d="M685.8 508 L685.8 518" stroke-width="1.3" />
<path d="M687 508.5 L687 524.3" stroke-width="1.4" />
<path d="M690.6 508.5 L690.4 524.3" stroke-width="1.4" />
<path d="M687 524.3 L690.4 524.3" stroke-width="1.0" />
<path d="M696.3 508 L696.3 519.5 L700.2 519.5 L700.2 508.5" stroke-width="1.3" />
<path d="M683 522.8 C683.2 523 683.5 523.9 684 524.2 C684.5 524.5 685.5 524.7 685.8 524.8" stroke-width="1" />
<path d="M691.5 525.2 C691.9 525 693.2 524.4 694 523.8 C694.8 523.2 696.1 521.9 696.5 521.5" stroke-width="1" />
</g>
<g id="b6">
<path d="M768.5 548 C768.5 545.7 768.3 530.6 768.5 528 C768.7 525.4 769.5 526 770 525.6 C770.5 525.2 772.3 524.8 773 524.8 C773.7 524.8 775.5 525.2 776 525.6 C776.5 526 777.4 525.4 777.6 528 C777.8 530.6 777.6 545.7 777.6 548" stroke-width="1.5" class="w"/>
<path d="M769.5 529 L776.6 529.8" stroke-width="1.0" />
<path d="M769.5 532 L776.6 532.8" stroke-width="1.0" />
<path d="M769.5 535 L776.6 535.8" stroke-width="1.0" />
<path d="M769.5 538 L776.6 538.8" stroke-width="1.0" />
<path d="M769.5 541 L776.6 541.8" stroke-width="1.0" />
<path d="M769.5 544 L776.6 544.8" stroke-width="1.0" />
<path d="M764 550.2 L768.5 546.3 L777.8 546.3 L782.6 549.8 L782.6 557.5 L778 561.3 L768.6 561.3 L764 558Z" stroke-width="1.6" class="w"/>
<path d="M764 550.2 L768.3 553.5 L778 553.5 L782.6 549.8" stroke-width="1.2" />
<path d="M768.3 553.5 L768.6 561.3" stroke-width="1.1" />
<path d="M778 553.5 L778 561.3" stroke-width="1.1" />
<path d="M769 546.8 C769.7 547.2 771.6 549 773 549 C774.4 549 776.6 547.2 777.3 546.8" stroke-width="1.1" />
</g>
<g id="pad">
<rect x="799.3" y="406.2" width="30.4" height="14.6" stroke="#000" stroke-width="2.6" fill="#fff"/>
<path d="M801 408.5 C801.3 408.6 802.2 409.4 803 409.3 C803.8 409.2 804.8 408.1 806 408 C807.2 407.9 808.5 409 810 409 C811.5 409 813.3 407.8 815 407.8 C816.7 407.8 818.5 409 820 409 C821.5 409 822.7 408 824 408 C825.3 408 827.3 408.8 828 409" stroke-width="1.0" />
<path d="M801 418.5 C801.5 418.4 802.8 417.5 804 417.6 C805.2 417.7 806.5 418.6 808 419 C809.5 419.4 811.3 420.1 813 420 C814.7 419.9 816.3 419 818 418.6 C819.7 418.2 821.3 417.7 823 417.8 C824.7 417.9 827.2 418.8 828 419" stroke-width="1.0" />
<path d="M796 415.5 L777 429.3" stroke-width="1.0" stroke-dasharray="5 4.5" stroke-linecap="butt"/>
<path d="M766.3 431 L773 439.3" stroke-width="4" class="ws" stroke-linecap="butt"/>
<path d="M762.2 440.6 L771 430.6 L777.3 429.4 L776.3 434.2Z" stroke-width="0.7" class="f"/>
</g>
<g id="c3">
<path d="M699.3 658.2 L705 671.4 L710.1 667.6Z" stroke-width="0.8" class="f"/>
<path d="M707.6 669.5 L742.1 716.2" stroke-width="1.3" stroke-dasharray="9 7.6" stroke-linecap="butt"/>
<path d="M753.8 714.8 L753.8 724" stroke-width="2.2" />
<path d="M753.8 714.8 L755.4 713.8 L766.2 721" stroke-width="1.6" />
<path d="M753.8 724 L759.8 726.8" stroke-width="1.2" />
<path d="M768.2 714.2 L773 707.6 L776.6 710 L772.8 716" stroke-width="1.7" />
<path d="M760.2 711.2 L766.2 714 L772.2 717.6" stroke-width="3.0" />
<path d="M761 713.2 L763.8 718 L768.2 720" stroke-width="1.6" />
<path d="M763 712 L761.8 709.6 L765 710.8" stroke-width="1.4" />
<path d="M769.6 721.4 L768 731.4" stroke-width="2.4" />
<path d="M773.8 721 L776.4 725.8" stroke-width="1.5" />
<path d="M771 718.8 L773.8 721" stroke-width="1.5" />
<path d="M774.6 730.8 C775.2 730.5 777 729.3 778.2 729 C779.4 728.6 780.7 728.5 781.8 728.8 C782.9 729.1 784.1 730 784.8 731 C785.4 732.1 785.7 733.9 785.6 735.2 C785.4 736.5 785 738.2 784 739 C782.9 739.9 780 740 779.2 740.2" stroke-width="2.0" />
<path d="M779.2 740.2 L779.2 736 L783.4 735.2" stroke-width="1.8" />
<path d="M767.8 731.4 L771 732 L776.2 730.2" stroke-width="1.5" />
<path d="M770.2 737.2 L776.6 735" stroke-width="2.4" />
<path d="M750.2 743.2 L766.2 735.6 L770.2 741.6 L753.4 749.8Z" stroke-width="1.9" />
<path d="M752.4 740 L764.6 734.4" stroke-width="1.4" />
<path d="M754.2 738.2 L762.2 735" stroke-width="1.2" />
<path d="M749.4 728 L758.2 733.2" stroke-width="1.7" />
<path d="M755.8 727 L762.2 731.6" stroke-width="1.4" />
<path d="M742.2 732 L742.2 743.2" stroke-width="2.6" />
<path d="M735.8 722.8 L743 729.2 L751.4 723.6" stroke-width="1.8" />
<path d="M743 729.2 L749.4 733.6" stroke-width="1.6" />
<path d="M745 732 L747.2 738.4 L750.2 743.2" stroke-width="1.5" />
<path d="M727.8 727.6 L735 730.4 L741.4 732" stroke-width="1.8" />
<path d="M728.2 728 L728.8 738.4" stroke-width="1.6" />
<path d="M721.8 732.8 L735.8 736" stroke-width="1.8" />
<path d="M722 734 L728.6 732.2 L739 730.8" stroke-width="1.5" />
<path d="M731 729.4 L738.4 733.8" stroke-width="1.7" />
<path d="M719.8 746 L722.2 748 L732 743.2 L730.4 741.6" stroke-width="2.0" />
<path d="M725.8 750.8 L727.8 752.4 L738.4 746.8 L736.4 745.4" stroke-width="2.0" />
<path d="M738.2 747.2 L741.4 751.2 L749.4 746.4 L753.4 750" stroke-width="1.9" />
<path d="M734.7 751.2 C734.7 752 734.5 757.3 734.7 758.4 C734.9 759.5 736 760.6 736.6 761 C737.2 761.4 739.2 761.8 740 761.8 C740.7 761.8 742.5 761.4 743.2 761 C743.8 760.6 745.1 759.5 745.4 758.4 C745.7 757.3 745.4 752.6 745.4 751.8" stroke-width="2.0" class="w"/>
<path d="M734.7 751.6 C735.4 752.1 737.7 754 739 754.4 C740.3 754.8 741.5 754.6 742.6 754.2 C743.7 753.9 744.9 752.5 745.4 752.2" stroke-width="1.6" />
</g>
<rect x="435.6" y="746.4" width="49" height="60" fill="none" stroke="#11941a" stroke-width="4.8" stroke-linejoin="round"/>
<g id="labels" font-family="'Liberation Sans', sans-serif" font-weight="700" font-size="12" text-anchor="middle" fill="#000" stroke="none">
<rect x="365.5" y="8.5" width="18" height="18" fill="#fff" stroke="#000" stroke-width="1"/>
<rect x="456.5" y="8.5" width="18" height="18" fill="#fff" stroke="#000" stroke-width="1"/>
<rect x="511.5" y="8.5" width="18" height="18" fill="#fff" stroke="#000" stroke-width="1"/>
<rect x="784.5" y="8.5" width="18" height="18" fill="#fff" stroke="#000" stroke-width="1"/>
<rect x="949.5" y="8.5" width="18" height="18" fill="#fff" stroke="#000" stroke-width="1"/>
<rect x="411.5" y="764.5" width="18" height="18" fill="#fff" stroke="#000" stroke-width="1"/>
<rect x="452.5" y="764.5" width="18" height="18" fill="#fff" stroke="#000" stroke-width="1"/>
<rect x="759.5" y="764.5" width="18" height="18" fill="#fff" stroke="#000" stroke-width="1"/>
<rect x="819.5" y="764.5" width="18" height="18" fill="#fff" stroke="#000" stroke-width="1"/>
<filter id="gs" x="-5%" y="-5%" width="110%" height="110%"><feColorMatrix type="saturate" values="0"/></filter>
<g filter="url(#gs)">
<text x="374.9" y="21.2">1</text>
<text x="465.9" y="21.2">4</text>
<text x="520.9" y="21.2">8</text>
<text x="793.9" y="21.2">9</text>
<text x="958.9" y="21.2">6</text>
<text x="420.9" y="777.2">7</text>
<text x="461.9" y="777.2">5</text>
<text x="768.9" y="777.2">3</text>
<text x="828.9" y="777.2">2</text>
</g>
</g>
</svg>
</body></html>
